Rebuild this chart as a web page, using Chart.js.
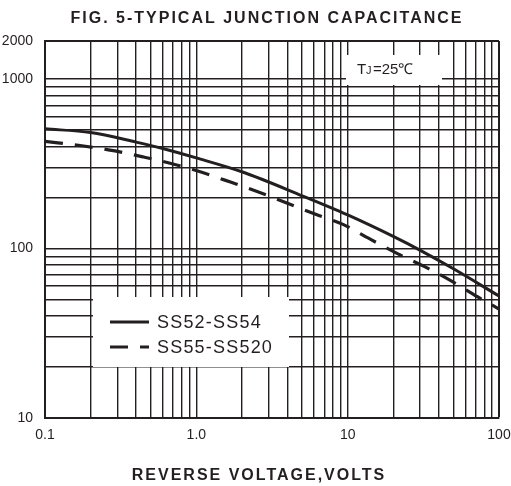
<!DOCTYPE html>
<html>
<head>
<meta charset="utf-8">
<script src="https://cdn.jsdelivr.net/npm/chart.js@4.4.0/dist/chart.umd.min.js"></script>
<style>
  html, body { margin: 0; padding: 0; background: #fff; }
  #wrap { width: 511px; height: 486px; position: relative; }
</style>
</head>
<body>
<div id="wrap"><canvas id="cap-chart"></canvas></div>
<script>
// SS52-SS54 (solid)
var voltsA = [0.1, 0.2, 0.4, 0.6, 1, 2, 5, 10, 20, 30, 50, 100];
var capA   = [509, 484, 425, 390, 343, 284, 205, 158, 118, 98, 76, 52.5];

// SS55-SS520 (dashed)
var voltsB = [0.1, 0.18, 0.29, 0.45, 0.7, 1.1, 1.7, 2.6, 4, 6.2, 9.3, 14, 21.5, 32.5, 49, 72, 100];
var capB   = [430, 403, 377, 347, 316, 281, 246, 215, 185, 159, 139, 114, 93, 78, 64, 52, 44];

var seriesNames = ['SS52-SS54', 'SS55-SS520'];

// axes
var xMin = 0.1, xMax = 100;
var yMin = 10, yMax = 1680;   // top edge sits a bit under 2000 in the original
var xTickValues = [0.1, 1, 10, 100];
var xTickLabels = ['0.1', '1.0', '10', '100'];
var yTickValues = [10, 100, 1000, 1680];
var yTickLabels = ['10', '100', '1000', '2000'];
var xGridValues = [0.1, 0.2, 0.3, 0.4, 0.5, 0.6, 0.7, 0.8, 0.9,
                   1, 2, 3, 4, 5, 6, 7, 8, 9,
                   10, 20, 30, 40, 50, 60, 70, 80, 90, 100];
var yGridValues = [10, 20, 30, 40, 50, 60, 70, 80, 90,
                   100, 200, 300, 400, 500, 600, 700, 800, 900,
                   1000, 1680];

var chartTitle = 'FIG. 5-TYPICAL JUNCTION CAPACITANCE';
var xAxisTitle = 'REVERSE VOLTAGE,VOLTS';

var ink = '#231f20';
var fontFamily = '"Liberation Sans", Arial, Helvetica, sans-serif';

function toPoints(xs, ys) {
  var out = [];
  for (var i = 0; i < xs.length; i++) out.push({ x: xs[i], y: ys[i] });
  return out;
}

// title, axis title, Tj note and the legend box
var decorPlugin = {
  id: 'decor',
  afterDraw: function(chart) {
    var ctx = chart.ctx;
    ctx.save();
    ctx.fillStyle = ink;
    ctx.textAlign = 'center';
    ctx.textBaseline = 'middle';
    ctx.font = 'bold 16px ' + fontFamily;
    ctx.letterSpacing = '2px';
    ctx.fillText(chartTitle, 267, 19);
    ctx.fillText(xAxisTitle, 259, 476);
    ctx.letterSpacing = '0px';

    // Tj box
    ctx.fillStyle = '#fff';
    ctx.fillRect(346, 55, 96, 30);
    ctx.fillStyle = ink;
    ctx.textAlign = 'left';
    ctx.textBaseline = 'alphabetic';
    ctx.font = '15px ' + fontFamily;
    ctx.fillText('T', 357, 74);
    ctx.font = '11px ' + fontFamily;
    ctx.fillText('J', 366, 74);
    ctx.font = '15px ' + fontFamily;
    ctx.fillText('=25\u2103', 373, 74);

    // legend box
    ctx.fillStyle = '#fff';
    ctx.fillRect(93, 297, 196, 70);
    var rows = [322, 347];
    chart.data.datasets.forEach(function(ds, i) {
      ctx.strokeStyle = ds.borderColor;
      ctx.lineWidth = ds.borderWidth;
      ctx.setLineDash(ds.borderDash || []);
      ctx.beginPath();
      ctx.moveTo(110, rows[i]);
      ctx.lineTo(149, rows[i]);
      ctx.stroke();
      ctx.setLineDash([]);
      ctx.fillStyle = ink;
      ctx.font = '18px ' + fontFamily;
      ctx.letterSpacing = '1.2px';
      ctx.textBaseline = 'middle';
      ctx.fillText(ds.label, 157, rows[i] + 1);
      ctx.letterSpacing = '0px';
    });
    ctx.restore();
  }
};

var ctx = document.getElementById('cap-chart').getContext('2d');
var chart = new Chart(ctx, {
  type: 'line',
  data: {
    datasets: [
      {
        label: seriesNames[0],
        data: toPoints(voltsA, capA),
        borderColor: ink,
        borderWidth: 3,
        fill: false,
        pointRadius: 0,
        cubicInterpolationMode: 'monotone'
      },
      {
        label: seriesNames[1],
        data: toPoints(voltsB, capB),
        borderColor: ink,
        borderWidth: 3.2,
        borderDash: [18, 12],
        fill: false,
        pointRadius: 0,
        cubicInterpolationMode: 'monotone'
      }
    ]
  },
  options: {
    responsive: true,
    maintainAspectRatio: false,
    animation: false,
    layout: { padding: { top: 41, right: 12, left: 0, bottom: 0 } },
    plugins: {
      legend: { display: false },
      title: { display: false },
      tooltip: { enabled: false }
    },
    scales: {
      x: {
        type: 'logarithmic',
        min: xMin,
        max: xMax,
        afterBuildTicks: function(scale) {
          scale.ticks = xGridValues.map(function(v) { return { value: v }; });
        },
        afterFit: function(scale) {
          scale.height = 68;
          scale.paddingLeft = 0;
          scale.paddingRight = 0;
        },
        ticks: {
          autoSkip: false,
          maxRotation: 0,
          minRotation: 0,
          padding: 9,
          color: ink,
          font: { family: fontFamily, size: 14 },
          callback: function(value) {
            var i = xTickValues.indexOf(value);
            return i >= 0 ? xTickLabels[i] : '';
          }
        },
        grid: {
          color: ink,
          drawTicks: false,
          lineWidth: function(c) {
            return (c.tick && c.tick.value === xMax) ? 2 : 1.4;
          }
        },
        border: { display: true, color: ink, width: 2 }
      },
      y: {
        type: 'logarithmic',
        min: yMin,
        max: yMax,
        afterBuildTicks: function(scale) {
          scale.ticks = yGridValues.map(function(v) { return { value: v }; });
        },
        afterFit: function(scale) {
          scale.width = 45;
          scale.paddingTop = 0;
          scale.paddingBottom = 0;
        },
        ticks: {
          autoSkip: false,
          padding: 12,
          color: ink,
          font: { family: fontFamily, size: 14 },
          callback: function(value) {
            var i = yTickValues.indexOf(value);
            return i >= 0 ? yTickLabels[i] : '';
          }
        },
        grid: {
          color: ink,
          drawTicks: false,
          lineWidth: function(c) {
            return (c.tick && c.tick.value === yMax) ? 2 : 1.4;
          }
        },
        border: { display: true, color: ink, width: 2 }
      }
    }
  },
  plugins: [decorPlugin]
});
</script>
</body>
</html>
